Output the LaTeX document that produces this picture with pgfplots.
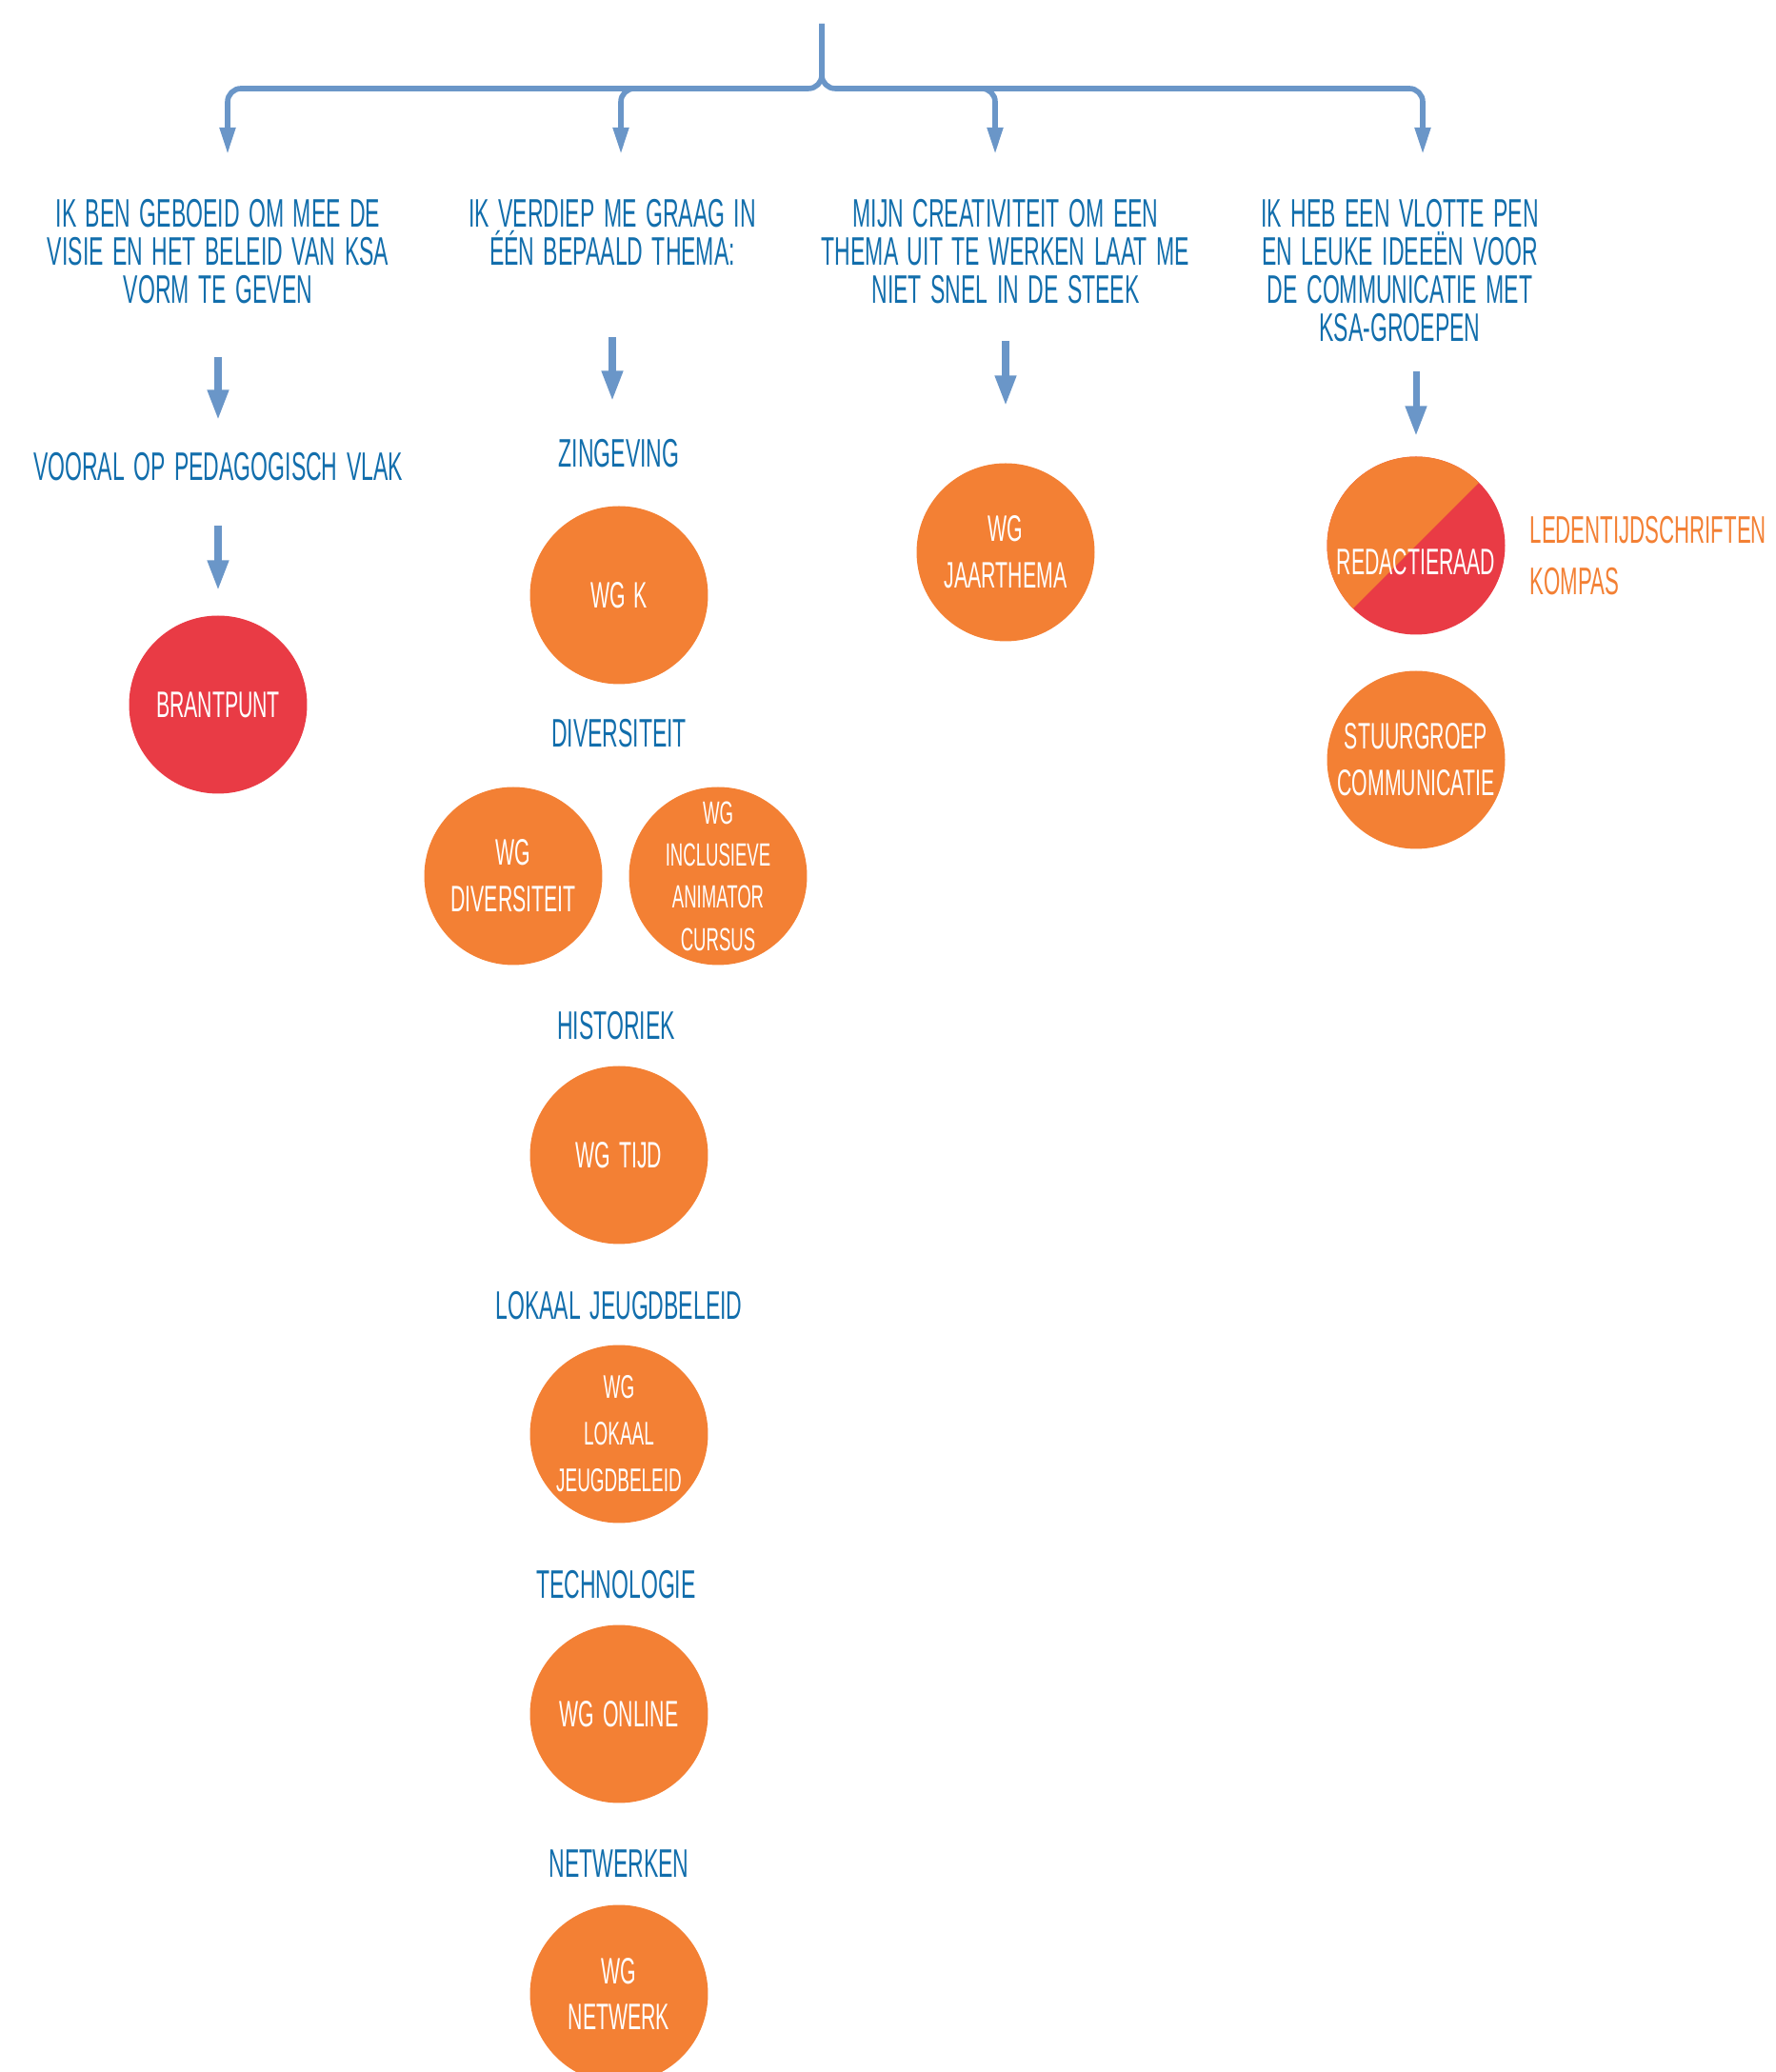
\documentclass[border=0pt]{standalone}
\usepackage{pgfplots}
\pgfplotsset{compat=1.18}
\usepackage{fontspec}
\usetikzlibrary{arrows.meta}
\newfontfamily\hand[FakeStretch=0.55,WordSpace=1.5]{Liberation Sans}
\definecolor{ksablue}{RGB}{18,110,172}
\definecolor{arrowblue}{RGB}{106,150,200}
\definecolor{ksaorange}{RGB}{243,128,52}
\definecolor{ksared}{RGB}{233,59,69}
\pgfdeclareplotmark{halfdisc}{%
  \pgfpathmoveto{\pgfpointpolar{-135}{\pgfplotmarksize}}%
  \pgfpatharc{-135}{45}{\pgfplotmarksize}%
  \pgfpathclose
  \pgfusepathqfill}
\tikzset{
  headtxt/.style={font={\hand\fontsize{11.9}{11.4}\selectfont}, text=ksablue, align=center, inner sep=0pt},
  circtxt/.style={font={\hand\fontsize{11}{13.9}\selectfont}, text=white, align=center, inner sep=0pt},
  arr/.style={arrowblue, line width=2pt, -{Triangle[length=9pt,width=6pt]}},
  brk/.style={arrowblue, line width=1.6pt, rounded corners=4pt, -{Triangle[length=8pt,width=4.5pt]}},
}
\begin{document}
\begin{tikzpicture}
\begin{axis}[
  width=186.4mm, height=217.6mm, scale only axis,
  xmin=0, xmax=1864, ymin=0, ymax=2176,
  hide axis, clip marker paths=true,
]
% frame for bounding box
\addplot[draw=none] coordinates {(0,0) (1864,2176)};
% top bracket
\addplot[brk] coordinates {(863,2151) (863,2083) (239,2083) (239,2014)};
\addplot[brk] coordinates {(863,2151) (863,2083) (1494,2083) (1494,2014)};
\addplot[brk] coordinates {(700,2083) (652,2083) (652,2014)};
\addplot[brk] coordinates {(1000,2083) (1045,2083) (1045,2014)};
% column arrows
\addplot[arr] coordinates {(229,1801) (229,1735)};
\addplot[arr] coordinates {(229,1624) (229,1556)};
\addplot[arr] coordinates {(643,1822) (643,1755)};
\addplot[arr] coordinates {(1056,1818) (1056,1750)};
\addplot[arr] coordinates {(1487,1786) (1487,1718)};
% red circles
\addplot[only marks, mark=*, mark size=26.4pt, mark options={ksared}]
  coordinates {(229,1436) (1487,1603)};
% orange circles
\addplot[only marks, mark=*, mark size=26.4pt, mark options={ksaorange}]
  coordinates {(650,1551) (539,1256) (754,1256) (650,963) (650,670) (650,376) (650,82) (1056,1596) (1487,1378)};
% orange half of redactieraad (upper-left), drawn over red
\addplot[only marks, mark=halfdisc, mark size=26.6pt, mark options={ksaorange, rotate=180}]
  coordinates {(1487,1603)};
% headings
\node[headtxt] at (axis cs:229,1912) {IK BEN GEBOEID OM MEE DE\\VISIE EN HET BELEID VAN KSA\\VORM TE GEVEN};
\node[headtxt] at (axis cs:643,1932) {IK VERDIEP ME GRAAG IN\\ÉÉN BEPAALD THEMA:};
\node[headtxt] at (axis cs:1056,1912) {MIJN CREATIVITEIT OM EEN\\THEMA UIT TE WERKEN LAAT ME\\NIET SNEL IN DE STEEK};
\node[headtxt] at (axis cs:1470,1892) {IK HEB EEN VLOTTE PEN\\EN LEUKE IDEEËN VOOR\\DE COMMUNICATIE MET\\KSA-GROEPEN};
\node[headtxt] at (axis cs:229,1686) {VOORAL OP PEDAGOGISCH VLAK};
\node[headtxt] at (axis cs:650,1700) {ZINGEVING};
\node[headtxt] at (axis cs:650,1406) {DIVERSITEIT};
\node[headtxt] at (axis cs:647,1099) {HISTORIEK};
\node[headtxt] at (axis cs:650,805) {LOKAAL JEUGDBELEID};
\node[headtxt] at (axis cs:647,512) {TECHNOLOGIE};
\node[headtxt] at (axis cs:650,219) {NETWERKEN};
% circle texts
\node[circtxt] at (axis cs:229,1436) {BRANTPUNT};
\node[circtxt] at (axis cs:650,1551) {WG K};
\node[circtxt] at (axis cs:539,1256) {WG\\DIVERSITEIT};
\node[circtxt, font={\hand\fontsize{9.6}{12.6}\selectfont}] at (axis cs:754,1256) {WG\\INCLUSIEVE\\ANIMATOR\\CURSUS};
\node[circtxt] at (axis cs:650,963) {WG TIJD};
\node[circtxt, font={\hand\fontsize{9.8}{13.9}\selectfont}] at (axis cs:650,670) {WG\\LOKAAL\\JEUGDBELEID};
\node[circtxt] at (axis cs:650,376) {WG ONLINE};
\node[circtxt] at (axis cs:650,82) {WG\\NETWERK};
\node[circtxt] at (axis cs:1056,1596) {WG\\JAARTHEMA};
\node[circtxt] at (axis cs:1487,1586) {REDACTIERAAD};
\node[circtxt] at (axis cs:1487,1378) {STUURGROEP\\COMMUNICATIE};
\node[headtxt, text=ksaorange, align=left, anchor=west, font={\hand\fontsize{11.5}{15.4}\selectfont}] at (axis cs:1606,1592) {LEDENTIJDSCHRIFTEN\\KOMPAS};
\end{axis}
\end{tikzpicture}
\end{document}
